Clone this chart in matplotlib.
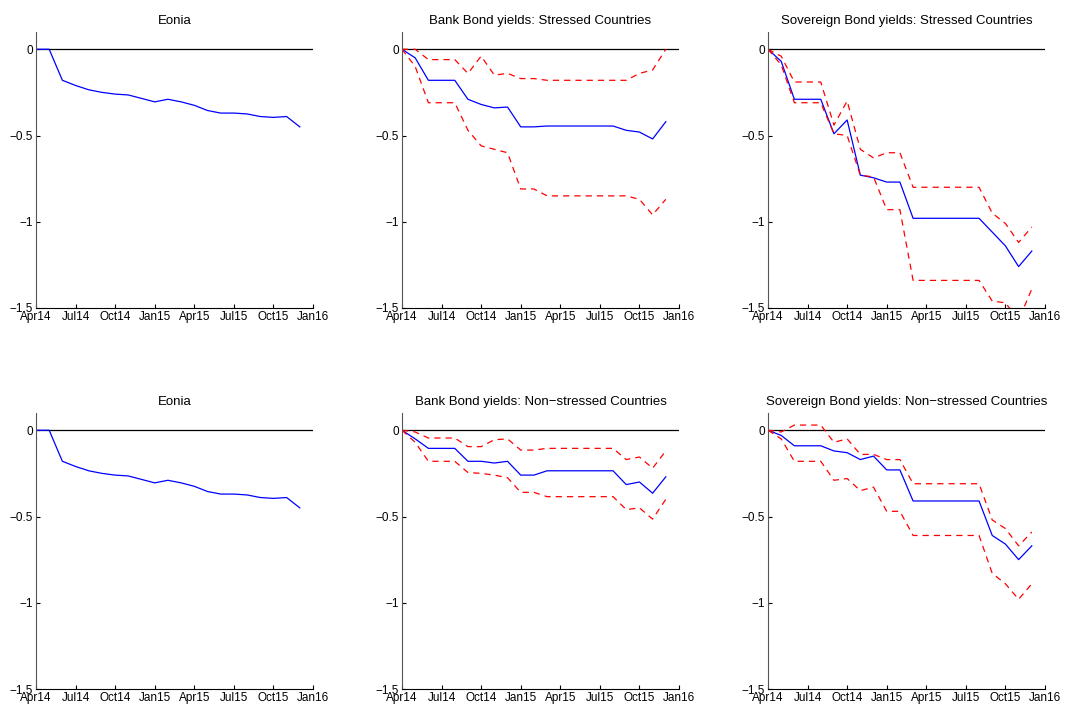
import matplotlib
matplotlib.use("Agg")
import matplotlib.pyplot as plt
import numpy as np

plt.rcParams['font.family'] = ['Liberation Sans', 'DejaVu Sans']

months = list(range(21))
tick_pos = [0, 3, 6, 9, 12, 15, 18, 21]
tick_labels = ['Apr14', 'Jul14', 'Oct14', 'Jan15', 'Apr15', 'Jul15', 'Oct15', 'Jan16']

eonia = [0, 0, -0.18, -0.21, -0.235, -0.25, -0.26, -0.265, -0.285, -0.305, -0.29,
         -0.305, -0.325, -0.355, -0.37, -0.37, -0.375, -0.39, -0.395, -0.39, -0.45]

bank_s = [0, -0.05, -0.18, -0.18, -0.18, -0.29, -0.32, -0.34, -0.335, -0.45, -0.45,
          -0.445, -0.445, -0.445, -0.445, -0.445, -0.445, -0.47, -0.48, -0.52, -0.42]
bank_s_up = [0, 0, -0.06, -0.06, -0.06, -0.14, -0.04, -0.15, -0.14, -0.17, -0.17,
             -0.18, -0.18, -0.18, -0.18, -0.18, -0.18, -0.18, -0.14, -0.12, 0]
bank_s_lo = [0, -0.10, -0.31, -0.31, -0.31, -0.47, -0.56, -0.58, -0.60, -0.81, -0.81,
             -0.85, -0.85, -0.85, -0.85, -0.85, -0.85, -0.85, -0.87, -0.96, -0.87]

sov_s = [0, -0.07, -0.29, -0.29, -0.29, -0.49, -0.41, -0.73, -0.745, -0.77, -0.77,
         -0.98, -0.98, -0.98, -0.98, -0.98, -0.98, -1.06, -1.14, -1.26, -1.17]
sov_s_up = [0, -0.04, -0.19, -0.19, -0.19, -0.44, -0.30, -0.58, -0.63, -0.60, -0.60,
            -0.80, -0.80, -0.80, -0.80, -0.80, -0.80, -0.95, -1.01, -1.12, -1.03]
sov_s_lo = [0, -0.09, -0.31, -0.31, -0.31, -0.49, -0.50, -0.73, -0.74, -0.93, -0.93,
            -1.34, -1.34, -1.34, -1.34, -1.34, -1.34, -1.46, -1.47, -1.57, -1.39]

bank_n = [0, -0.05, -0.105, -0.105, -0.105, -0.18, -0.18, -0.19, -0.18, -0.26, -0.26,
          -0.235, -0.235, -0.235, -0.235, -0.235, -0.235, -0.315, -0.30, -0.365, -0.27]
bank_n_up = [0, -0.01, -0.045, -0.045, -0.045, -0.095, -0.095, -0.055, -0.05, -0.115, -0.115,
             -0.105, -0.105, -0.105, -0.105, -0.105, -0.105, -0.17, -0.155, -0.22, -0.12]
bank_n_lo = [0, -0.07, -0.18, -0.18, -0.18, -0.245, -0.25, -0.26, -0.275, -0.36, -0.36,
             -0.385, -0.385, -0.385, -0.385, -0.385, -0.385, -0.46, -0.45, -0.515, -0.40]

sov_n = [0, -0.03, -0.09, -0.09, -0.09, -0.12, -0.13, -0.17, -0.15, -0.23, -0.23,
         -0.41, -0.41, -0.41, -0.41, -0.41, -0.41, -0.61, -0.66, -0.75, -0.67]
sov_n_up = [0, -0.01, 0.03, 0.03, 0.03, -0.07, -0.05, -0.14, -0.14, -0.17, -0.17,
            -0.31, -0.31, -0.31, -0.31, -0.31, -0.31, -0.52, -0.57, -0.67, -0.59]
sov_n_lo = [0, -0.05, -0.18, -0.18, -0.18, -0.29, -0.28, -0.35, -0.33, -0.47, -0.47,
            -0.61, -0.61, -0.61, -0.61, -0.61, -0.61, -0.83, -0.89, -0.98, -0.89]

panels = [
    ('Eonia', eonia, None, None),
    ('Bank Bond yields: Stressed Countries', bank_s, bank_s_up, bank_s_lo),
    ('Sovereign Bond yields: Stressed Countries', sov_s, sov_s_up, sov_s_lo),
    ('Eonia', eonia, None, None),
    ('Bank Bond yields: Non\u2212stressed Countries', bank_n, bank_n_up, bank_n_lo),
    ('Sovereign Bond yields: Non\u2212stressed Countries', sov_n, sov_n_up, sov_n_lo),
]

fig = plt.figure(figsize=(10.73, 7.09), dpi=100)
lefts = [36/1073, 402/1073, 768/1073]
bottoms = [1 - 308/709, 1 - 689/709]
w, h = 277/1073, 276/709

for i, (title, mid, up, lo) in enumerate(panels):
    ax = fig.add_axes([lefts[i % 3], bottoms[i // 3], w, h])
    ax.axhline(0, color='black', lw=0.9)
    ax.plot(months, mid, color='blue', lw=0.9)
    if up is not None:
        ax.plot(months, up, color='red', lw=0.9, ls=(0, (5, 4)))
        ax.plot(months, lo, color='red', lw=0.9, ls=(0, (5, 4)))
    ax.set_xlim(0, 20.9)
    ax.set_ylim(-1.5, 0.1)
    ax.set_xticks(tick_pos)
    ax.set_xticklabels(tick_labels)
    ax.set_yticks([-1.5, -1, -0.5, 0])
    ax.set_yticklabels(['\u22121.5', '\u22121', '\u22120.5', '0'])
    ax.tick_params(direction='in', length=3, labelsize=8.5, pad=2)
    ax.spines['top'].set_visible(False)
    ax.spines['right'].set_visible(False)
    ax.spines['left'].set_color('#555555')
    ax.set_title(title, fontsize=9.5, pad=6)

fig.savefig('out.png', dpi=100)
